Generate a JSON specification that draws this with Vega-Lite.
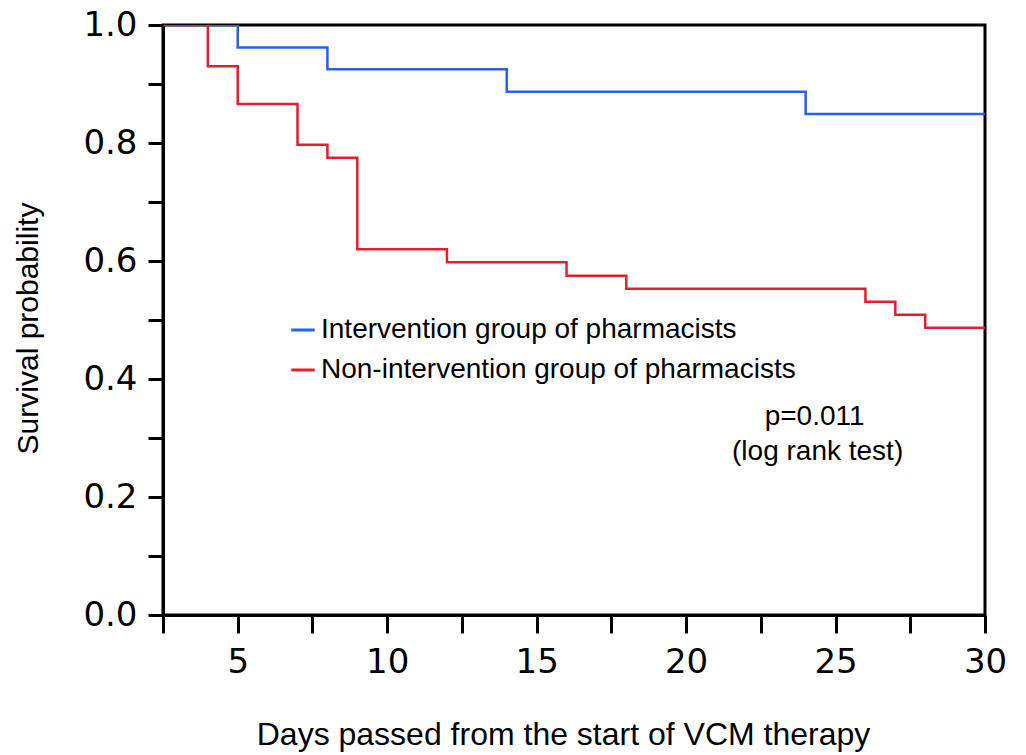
{
  "$schema": "https://vega.github.io/schema/vega-lite/v6.json",
  "autosize": "none",
  "width": 822,
  "height": 590,
  "padding": {"left": 163, "top": 25, "right": 41, "bottom": 140},
  "background": "white",
  "config": {
    "view": {"stroke": "black", "strokeWidth": 3},
    "axis": {"grid": false, "domainColor": "black", "domainWidth": 3, "tickColor": "black", "tickWidth": 3, "labelColor": "black", "titleColor": "black"}
  },
  "datasets": {
    "km": [
      {"group": "Intervention group of pharmacists", "day": 2.5, "surv": 1.0},
      {"group": "Intervention group of pharmacists", "day": 5, "surv": 0.962},
      {"group": "Intervention group of pharmacists", "day": 8, "surv": 0.925},
      {"group": "Intervention group of pharmacists", "day": 14, "surv": 0.887},
      {"group": "Intervention group of pharmacists", "day": 24, "surv": 0.849},
      {"group": "Intervention group of pharmacists", "day": 30, "surv": 0.849},
      {"group": "Non-intervention group of pharmacists", "day": 2.5, "surv": 1.0},
      {"group": "Non-intervention group of pharmacists", "day": 4, "surv": 0.93},
      {"group": "Non-intervention group of pharmacists", "day": 5, "surv": 0.866},
      {"group": "Non-intervention group of pharmacists", "day": 7, "surv": 0.797},
      {"group": "Non-intervention group of pharmacists", "day": 8, "surv": 0.775},
      {"group": "Non-intervention group of pharmacists", "day": 9, "surv": 0.62},
      {"group": "Non-intervention group of pharmacists", "day": 12, "surv": 0.598},
      {"group": "Non-intervention group of pharmacists", "day": 16, "surv": 0.575},
      {"group": "Non-intervention group of pharmacists", "day": 18, "surv": 0.553},
      {"group": "Non-intervention group of pharmacists", "day": 26, "surv": 0.531},
      {"group": "Non-intervention group of pharmacists", "day": 27, "surv": 0.509},
      {"group": "Non-intervention group of pharmacists", "day": 28, "surv": 0.487},
      {"group": "Non-intervention group of pharmacists", "day": 30, "surv": 0.487}
    ],
    "notes": [
      {"label": "p=0.011", "line": 1},
      {"label": "(log rank test)", "line": 2}
    ]
  },
  "layer": [
    {
      "data": {"name": "km"},
      "mark": {"type": "line", "interpolate": "step-after", "strokeWidth": 2.5, "clip": true},
      "encoding": {
        "x": {
          "field": "day", "type": "quantitative",
          "scale": {"domain": [2.5, 30], "nice": false, "zero": false},
          "axis": {
            "values": [2.5, 5, 7.5, 10, 12.5, 15, 17.5, 20, 22.5, 25, 27.5, 30],
            "labelExpr": "datum.value % 5 === 0 ? format(datum.value, 'd') : ''",
            "tickSize": 18,
            "encode": {"ticks": {"update": {"y2": {"signal": "datum.value % 5 === 0 ? 18 : 10"}}}},
            "labelFont": "DejaVu Sans", "labelFontSize": 34, "labelPadding": 12,
            "labelFlush": false, "labelOverlap": false,
            "title": "Days passed from the start of VCM therapy",
            "titleFont": "Liberation Sans", "titleFontSize": 32, "titleFontWeight": "normal",
            "titleX": 400, "titleY": 104, "titleBaseline": "top"
          }
        },
        "y": {
          "field": "surv", "type": "quantitative",
          "scale": {"domain": [0, 1], "nice": false},
          "axis": {
            "values": [0, 0.1, 0.2, 0.3, 0.4, 0.5, 0.6, 0.7, 0.8, 0.9, 1.0],
            "labelExpr": "round(datum.value * 10) % 2 === 0 ? format(datum.value, '.1f') : ''",
            "tickSize": 15,
            "encode": {"ticks": {"update": {"x2": {"signal": "round(datum.value * 10) % 2 === 0 ? -15 : -7"}}}},
            "labelFont": "DejaVu Sans", "labelFontSize": 34, "labelPadding": 11,
            "labelFlush": false, "labelOverlap": false,
            "title": "Survival probability",
            "titleFont": "Liberation Sans", "titleFontSize": 30, "titleFontWeight": "normal",
            "titleX": -120, "titleY": 303
          }
        },
        "color": {
          "field": "group", "type": "nominal",
          "scale": {"domain": ["Intervention group of pharmacists", "Non-intervention group of pharmacists"], "range": ["#2563e6", "#e0202e"]},
          "legend": {
            "title": null, "orient": "none", "legendX": 126, "legendY": 291,
            "symbolType": "stroke", "symbolSize": 550, "symbolStrokeWidth": 3,
            "labelFont": "Liberation Sans", "labelFontSize": 28, "labelColor": "black",
            "labelOffset": 4, "rowPadding": 12, "labelLimit": 800
          }
        }
      }
    },
    {
      "data": {"name": "notes"},
      "transform": [{"filter": "datum.line === 1"}],
      "mark": {"type": "text", "font": "Liberation Sans", "fontSize": 28, "color": "black", "align": "center", "baseline": "middle"},
      "encoding": {
        "x": {"datum": 24.3, "type": "quantitative"},
        "y": {"datum": 0.336, "type": "quantitative"},
        "text": {"field": "label"}
      }
    },
    {
      "data": {"name": "notes"},
      "transform": [{"filter": "datum.line === 2"}],
      "mark": {"type": "text", "font": "Liberation Sans", "fontSize": 28, "color": "black", "align": "center", "baseline": "middle"},
      "encoding": {
        "x": {"datum": 24.4, "type": "quantitative"},
        "y": {"datum": 0.276, "type": "quantitative"},
        "text": {"field": "label"}
      }
    }
  ]
}
